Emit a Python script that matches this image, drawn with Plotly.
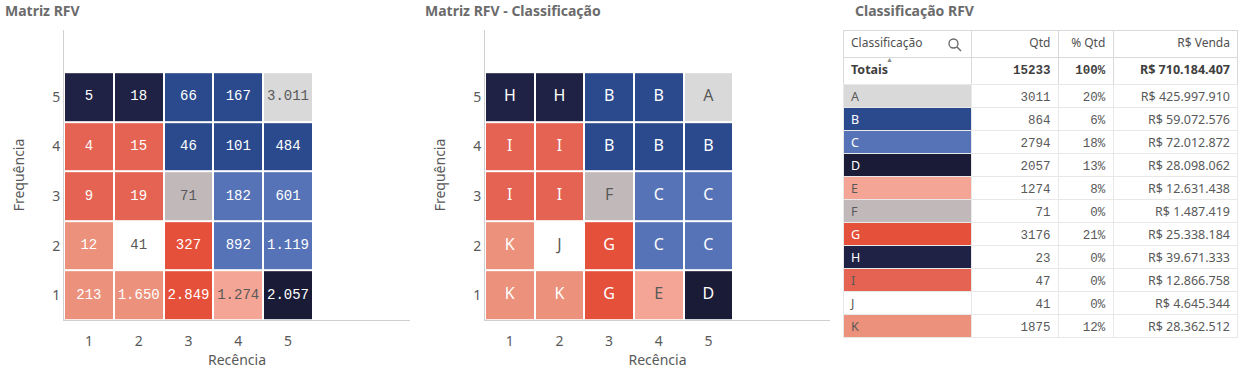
import plotly.graph_objects as go

W, H = 1241, 377

recencia = [1, 2, 3, 4, 5]
frequencia = [1, 2, 3, 4, 5]

# rows: Frequência 1 (bottom) .. 5 (top); columns: Recência 1..5
qtd_matrix = [
    [213, 1650, 2849, 1274, 2057],
    [12, 41, 327, 892, 1119],
    [9, 19, 71, 182, 601],
    [4, 15, 46, 101, 484],
    [5, 18, 66, 167, 3011],
]
class_matrix = [
    ["K", "K", "G", "E", "D"],
    ["K", "J", "G", "C", "C"],
    ["I", "I", "F", "C", "C"],
    ["I", "I", "B", "B", "B"],
    ["H", "H", "B", "B", "A"],
]

classes = ["A", "B", "C", "D", "E", "F", "G", "H", "I", "J", "K"]
class_colors = ["#d9d9d9", "#2a4a8d", "#5673b7", "#1a1b37", "#f4a595", "#c1b9b9",
                "#e5503a", "#1f2244", "#e46352", "#ffffff", "#ec917c"]
heat_dark_text = ["A", "E", "F", "J"]
table_dark_text = ["A", "E", "F", "I", "J", "K"]

table_qtd = [3011, 864, 2794, 2057, 1274, 71, 3176, 23, 47, 41, 1875]
table_pct = [20, 6, 18, 13, 8, 0, 21, 0, 0, 0, 12]
table_venda = [425997910, 59072576, 72012872, 28098062, 12631438, 1487419,
               25338184, 39671333, 12866758, 4645344, 28362512]
total_qtd = 15233
total_pct = 100
total_venda = 710184407

columns = ["Classificação", "Qtd", "% Qtd", "R$ Venda"]
titles = ["Matriz RFV", "Matriz RFV - Classificação", "Classificação RFV"]
x_title = "Recência"
y_title = "Frequência"


def br(n):
    return f"{n:,}".replace(",", ".")


GRAY = "#595959"
AXIS = "#d0d0d0"
MONO = "Liberation Mono, DejaVu Sans Mono, monospace"
SANS = "Noto Sans, Open Sans, sans-serif"

n = len(classes)
colorscale = []
for i, c in enumerate(class_colors):
    colorscale += [[i / n, c], [(i + 1) / n, c]]

z_idx = [[classes.index(c) for c in row] for row in class_matrix]

fig = go.Figure()


def px_x(p):
    return p / W


def px_y(p):
    return 1 - p / H


for k, (xa, ya) in enumerate([("x", "y"), ("x2", "y2")]):
    fig.add_trace(go.Heatmap(
        x=recencia, y=frequencia, z=z_idx, zmin=-0.5, zmax=n - 0.5,
        colorscale=colorscale, showscale=False, xgap=2, ygap=2,
        hoverinfo="skip", xaxis=xa, yaxis=ya))
    for dark in (False, True):
        xs, ys, ts = [], [], []
        for r, f in enumerate(frequencia):
            for c, rc in enumerate(recencia):
                cls = class_matrix[r][c]
                if (cls in heat_dark_text) == dark:
                    xs.append(rc)
                    ys.append(f)
                    ts.append(br(qtd_matrix[r][c]) if k == 0 else cls)
        fig.add_trace(go.Scatter(
            x=xs, y=ys, text=ts, mode="text", hoverinfo="skip", showlegend=False,
            textfont=dict(family=MONO if k == 0 else SANS,
                          size=14 if k == 0 else 16,
                          color="#595959" if dark else "#ffffff"),
            xaxis=xa, yaxis=ya))

y_dom = [px_y(320), px_y(30)]
axis_common = dict(showgrid=False, zeroline=False, showline=True, linecolor=AXIS,
                   linewidth=1, ticks="", tickfont=dict(family=SANS, size=14, color=GRAY),
                   fixedrange=True)
xt = dict(text=x_title, font=dict(family=SANS, size=14, color=GRAY), standoff=6)
yt = dict(text=y_title, font=dict(family=SANS, size=14, color=GRAY), standoff=24)
fig.update_layout(
    xaxis=dict(domain=[px_x(64), px_x(410)], range=[0.5, 7.45], tickvals=recencia,
               title=xt, anchor="y", ticklabelstandoff=8, **axis_common),
    yaxis=dict(domain=y_dom, range=[0.5, 6.35], tickvals=frequencia,
               title=yt, anchor="x", ticklabelstandoff=0, **axis_common),
    xaxis2=dict(domain=[px_x(485), px_x(830)], range=[0.5, 7.45], tickvals=recencia,
                title=xt, anchor="y2", ticklabelstandoff=8, **axis_common),
    yaxis2=dict(domain=y_dom, range=[0.5, 6.35], tickvals=frequencia,
                title=yt, anchor="x2", ticklabelstandoff=0, **axis_common),
)

# table: header + totals
col_w = [129, 87, 55, 125]
aligns = ["left", "right", "right", "right"]
fonts = [SANS, MONO, MONO, SANS]
tab_x = [px_x(843), px_x(1239)]
fig.add_trace(go.Table(
    domain=dict(x=tab_x, y=[px_y(84), px_y(30)]),
    columnwidth=col_w,
    header=dict(values=columns, height=27, fill_color="white", align=aligns,
                line=dict(color="#d9d9d9", width=1),
                font=dict(family=SANS, size=12, color="#505050")),
    cells=dict(values=[["Totais"], [str(total_qtd)], [f"{total_pct}%"], [f"R$ {br(total_venda)}"]],
               height=27, fill_color="white", align=aligns,
               line=dict(color="#d9d9d9", width=1),
               font=dict(family=fonts, size=12.5, color="#404040", weight="bold")),
))

# table body (first class row rendered as the body's header row so all rows are 23px)
row_vals = [classes,
            [str(v) for v in table_qtd],
            [f"{v}%" for v in table_pct],
            [f"R$ {br(v)}" for v in table_venda]]
row_font = ["#595959" if c in table_dark_text else "#ffffff" for c in classes]
row_fill = [class_colors, ["white"] * n, ["white"] * n, ["white"] * n]
fig.add_trace(go.Table(
    domain=dict(x=tab_x, y=[px_y(338), px_y(84)]),
    columnwidth=col_w,
    header=dict(values=[col[0] for col in row_vals], height=23, align=aligns,
                fill_color=[col[0] for col in row_fill],
                line=dict(color="#e8e8e8", width=1),
                font=dict(family=fonts, size=12.5, color=[row_font[0], GRAY, GRAY, GRAY])),
    cells=dict(values=[col[1:] for col in row_vals], height=23, align=aligns,
               fill_color=[col[1:] for col in row_fill],
               line=dict(color="#e8e8e8", width=1),
               font=dict(family=fonts, size=12.5,
                         color=[row_font[1:], GRAY, GRAY, GRAY])),
))

annotations = []
for t, xp in zip(titles, [3, 423, 853]):
    annotations.append(dict(text=f"<b>{t}</b>", x=px_x(xp), y=px_y(10), xref="paper", yref="paper",
                            xanchor="left", yanchor="middle", showarrow=False,
                            font=dict(family=SANS, size=14, color="#6b6b6b")))
annotations.append(dict(text="▲", x=px_x(895), y=px_y(53), xref="paper", yref="paper",
                        showarrow=False, font=dict(size=7, color="#888")))
fig.update_layout(annotations=annotations)

# magnifier icon
fig.add_shape(type="circle", xref="paper", yref="paper",
              x0=px_x(949), x1=px_x(958), y0=px_y(48), y1=px_y(39),
              line=dict(color="#666", width=1.3))
fig.add_shape(type="line", xref="paper", yref="paper",
              x0=px_x(957), x1=px_x(961), y0=px_y(47), y1=px_y(51),
              line=dict(color="#666", width=1.5))

fig.update_layout(width=W, height=H, margin=dict(l=0, r=0, t=0, b=0),
                  paper_bgcolor="white", plot_bgcolor="white", showlegend=False)
fig.write_html("out.html", config={"displayModeBar": False},
               post_script="document.body.style.margin='0';")
